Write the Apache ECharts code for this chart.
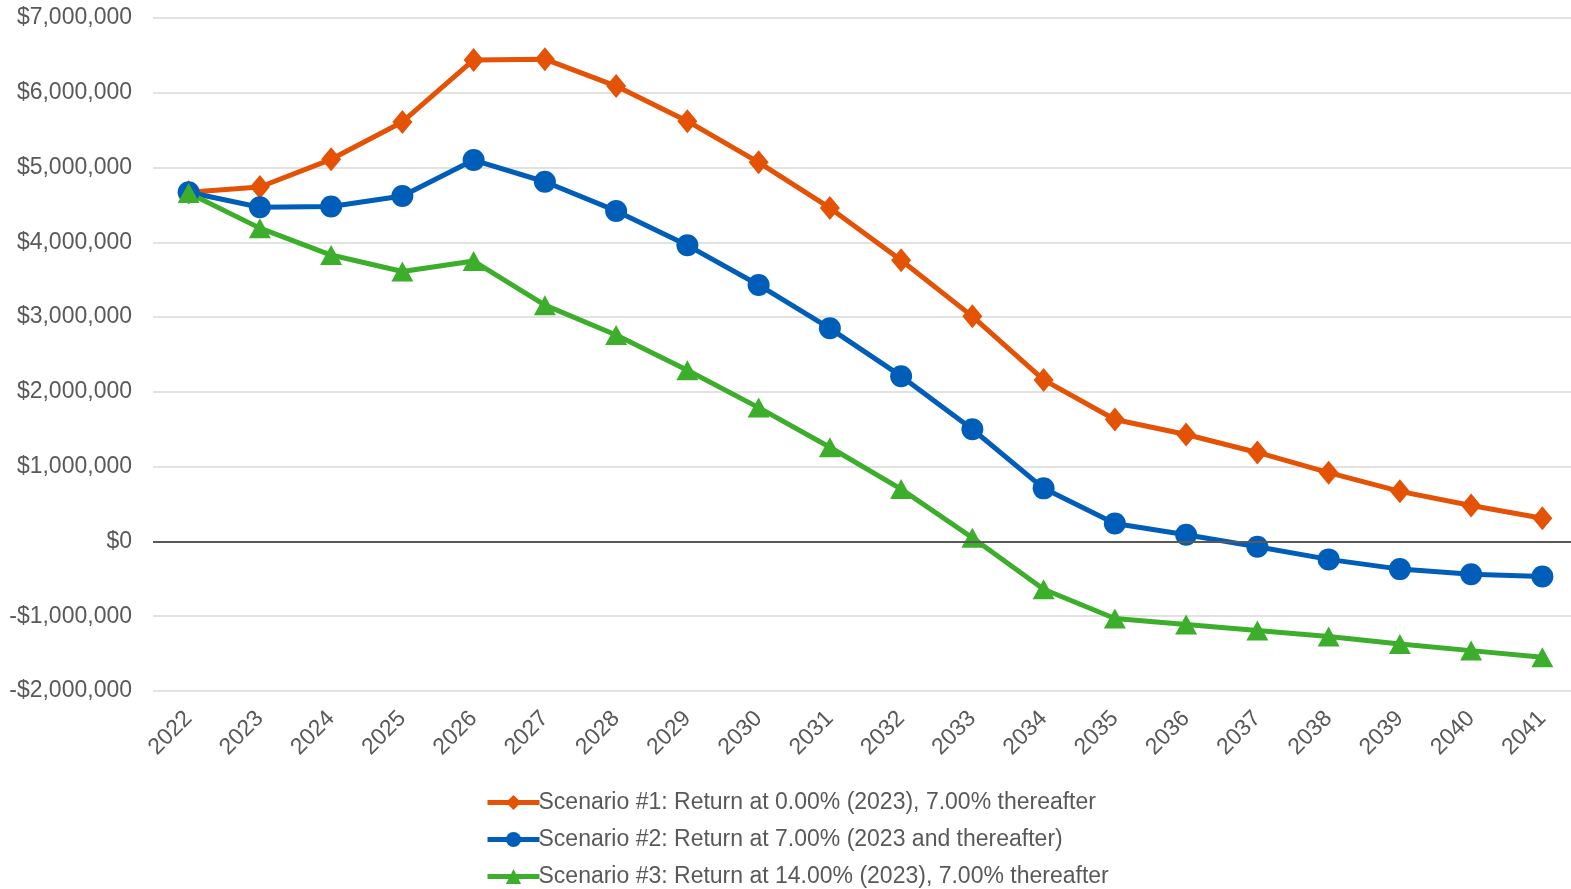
<!DOCTYPE html>
<html>
<head>
<meta charset="utf-8">
<script src="https://cdn.jsdelivr.net/npm/echarts@6/dist/echarts.min.js"></script>
<style>
	html,body{margin:0;padding:0;background:#fff;overflow:hidden;}
	#chart{width:1580px;height:889px;}
</style>
</head>
<body>
<div id="chart"></div>
<script>
var years = ['2022','2023','2024','2025','2026','2027','2028','2029','2030','2031','2032','2033','2034','2035','2036','2037','2038','2039','2040','2041'];
var scenario1 = [4670000,4740000,5110000,5610000,6440000,6450000,6090000,5620000,5070000,4460000,3760000,3010000,2160000,1630000,1430000,1190000,920000,670000,480000,310000];
var scenario2 = [4670000,4470000,4480000,4620000,5100000,4810000,4420000,3960000,3430000,2850000,2210000,1500000,710000,240000,90000,-70000,-240000,-370000,-440000,-470000];
var scenario3 = [4660000,4190000,3830000,3610000,3750000,3160000,2760000,2290000,1790000,1260000,700000,50000,-640000,-1030000,-1110000,-1190000,-1270000,-1370000,-1460000,-1550000];
var names = [
	'Scenario #1: Return at 0.00% (2023), 7.00% thereafter',
	'Scenario #2: Return at 7.00% (2023 and thereafter)',
	'Scenario #3: Return at 14.00% (2023), 7.00% thereafter'
];
var colors = ['#E35205','#005EB8','#3DAE2B'];

function money(v){
	var s = Math.abs(v).toString().replace(/\B(?=(\d{3})+(?!\d))/g, ',');
	return (v<0?'-$':'$')+s;
}

// plot runs a little past the right edge of the window, as in the original
var myChart = echarts.init(document.getElementById('chart'));
var font = 'Liberation Sans, Arial, sans-serif';

function mkSeries(name,data,symbol,size,color){
	return {
		name:name,
		type:'line',
		data:data,
		symbol:symbol,
		symbolSize:size,
		lineStyle:{width:5,color:color},
		itemStyle:{color:color},
		animation:false
	};
}

myChart.setOption({
	color:colors,
	textStyle:{fontFamily:font},
	grid:{left:153,width:1425,top:18,bottom:198,containLabel:false},
	legend:{
		orient:'vertical',
		left:485,
		top:791,
		padding:0,
		height:140,
		itemGap:14,
		itemWidth:52,
		itemHeight:19,
		lineStyle:{width:5},
		textStyle:{color:'#595959',fontSize:23,lineHeight:23,fontFamily:font,padding:[0,0,0,-6]},
		data:names
	},
	xAxis:{
		type:'category',
		data:years,
		boundaryGap:true,
		axisLine:{show:false},
		axisTick:{show:false},
		axisLabel:{rotate:45,color:'#595959',fontSize:23,fontFamily:font,margin:24}
	},
	yAxis:{
		type:'value',
		min:-2000000,
		max:7000000,
		interval:1000000,
		axisLine:{show:false},
		axisTick:{show:false},
		axisLabel:{color:'#595959',fontSize:23,fontFamily:font,margin:21,formatter:money},
		splitLine:{lineStyle:{color:'#D9D9D9',width:1.5}}
	},
	series:[
		mkSeries(names[0],scenario1,'diamond',[20,24],colors[0]),
		mkSeries(names[1],scenario2,'circle',22,colors[1]),
		mkSeries(names[2],scenario3,'triangle',[22,20],colors[2]),
		{
			type:'line',
			data:[],
			silent:true,
			markLine:{
				silent:true,
				symbol:'none',
				label:{show:false},
				lineStyle:{color:'#595959',width:2,type:'solid'},
				data:[{yAxis:0}]
			}
		}
	]
});
</script>
</body>
</html>
